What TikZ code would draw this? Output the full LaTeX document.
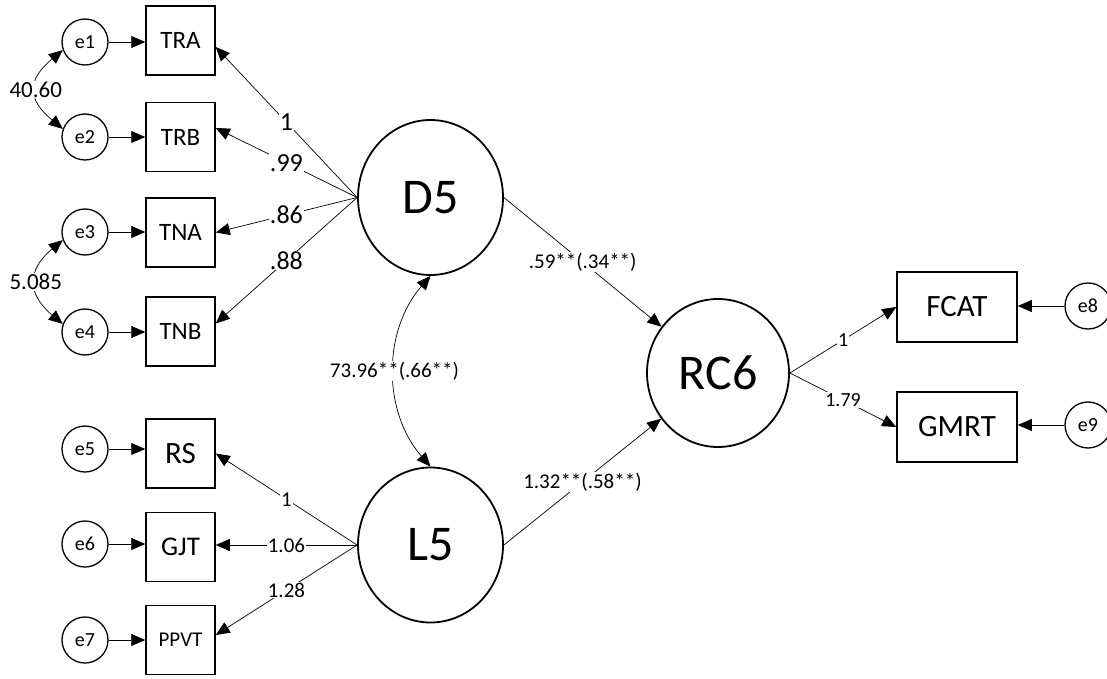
\documentclass[tikz,border=0pt]{standalone}
\usepackage{fontspec}
\setmainfont{Carlito}
\usetikzlibrary{shapes.geometric,arrows.meta}
\newcommand{\fsz}[1]{\fontsize{#1}{#1}\selectfont}

\begin{document}
\begin{tikzpicture}[x=1pt,y=-1pt,
  errnode/.style={circle,draw,line width=1.3pt,minimum size=46pt,inner sep=0pt,font={\fsz{20}}},
  obsnode/.style={rectangle,draw,line width=1.5pt,minimum width=69pt,minimum height=69pt,inner sep=0pt,font={\fsz{25}}},
  latnode/.style={ellipse,draw,line width=1.8pt,minimum width=145pt,minimum height=155pt,inner sep=0pt,font={\fsz{50}}},
  tip/.tip={Triangle[length=14pt,width=12pt]},
  arr/.style={-tip,line width=0.7pt},
  dbl/.style={tip-tip,line width=0.7pt},
  lbl/.style={fill=white,inner sep=1pt},
]
\useasboundingbox (0,0) rectangle (1107,679);

% error terms
\node[errnode] (e1) at (85,42) {e1};
\node[errnode] (e2) at (85,137) {e2};
\node[errnode] (e3) at (85,232) {e3};
\node[errnode] (e4) at (85,332) {e4};
\node[errnode] (e5) at (85,449) {e5};
\node[errnode] (e6) at (85,544) {e6};
\node[errnode] (e7) at (85,640) {e7};
\node[errnode] (e8) at (1088,306) {e8};
\node[errnode] (e9) at (1088,425) {e9};

% observed indicators
\node[obsnode] (TRA) at (180.5,40.5) {TRA};
\node[obsnode] (TRB) at (180.5,137) {TRB};
\node[obsnode] (TNA) at (180.5,232.5) {TNA};
\node[obsnode] (TNB) at (180.5,331.5) {TNB};
\node[obsnode,font={\fsz{31}}] (RS) at (180.5,453.5) {RS};
\node[obsnode,font={\fsz{27}}] (GJT) at (180.5,547) {GJT};
\node[obsnode,font={\fsz{21}}] (PPVT) at (180.5,640) {PPVT};
\node[obsnode,minimum width=120pt,minimum height=70pt,font={\fsz{31}}] (FCAT) at (957,307) {FCAT};
\node[obsnode,minimum width=120pt,minimum height=70pt,font={\fsz{31}}] (GMRT) at (957,427) {GMRT};

% latent factors
\node[latnode] (D5) at (430.5,197.5) {D5};
\node[latnode] (L5) at (430.5,545) {L5};
\node[latnode,minimum width=142pt,minimum height=148pt] (RC6) at (718,373) {RC6};

% residual paths
\foreach \e/\v in {e1/TRA,e2/TRB,e3/TNA,e4/TNB,e5/RS,e6/GJT,e7/PPVT}
  \draw[arr] (\e.east) -- (\e.east -| \v.west);
\draw[arr] (e8.west) -- (e8.west -| FCAT.east);
\draw[arr] (e9.west) -- (e9.west -| GMRT.east);

% D5 loadings
\begin{scope}[every node/.style={lbl,font={\fsz{26}}}]
\draw[arr] (D5.west) -- node {1} ([yshift=-6.5pt]TRA.east);
\draw[arr] (D5.west) -- node {.99} ([yshift=9pt]TRB.east);
\draw[arr] (D5.west) -- node {.86} (TNA.east);
\draw[arr] (D5.west) -- node {.88} ([yshift=8pt]TNB.east);
\end{scope}

% L5 loadings
\begin{scope}[every node/.style={lbl,font={\fsz{21}}}]
\draw[arr] (L5.west) -- node {1} (RS.east);
\draw[arr] (L5.west) -- node {1.06} (L5.west -| GJT.east);
\draw[arr] (L5.west) -- node {1.28} ([yshift=5pt]PPVT.east);
\end{scope}

% structural paths
\begin{scope}[every node/.style={lbl,font={\fsz{21}}}]
\draw[arr] (D5.east) -- node {.59**(.34**)} (RC6);
\draw[arr] (L5.east) -- node {1.32**(.58**)} (RC6);
\draw[dbl] (D5.south) .. controls +(-48,55) and +(-48,-55) .. node {73.96**(.66**)} (L5.north);
\end{scope}

% RC6 loadings
\begin{scope}[every node/.style={lbl,font={\fsz{20}}}]
\draw[arr] (RC6.east) -- node {1} (FCAT.west);
\draw[arr] (RC6.east) -- node {1.79} (GMRT.west);
\end{scope}

% error covariances
\begin{scope}[every node/.style={lbl,font={\fsz{23}}}]
\draw[dbl] (e1.200) .. controls +(-36,30) and +(-36,-30) .. node {40.60} (e2.160);
\draw[dbl] (e3.200) .. controls +(-36,30) and +(-36,-30) .. node {5.085} (e4.160);
\end{scope}
\end{tikzpicture}
\end{document}
